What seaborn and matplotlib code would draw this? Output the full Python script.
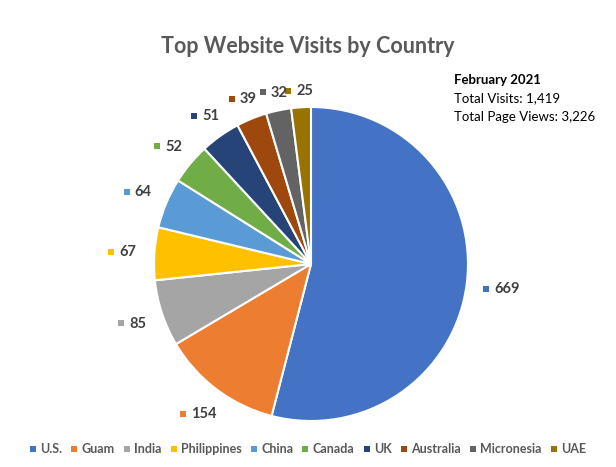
import numpy as np
import matplotlib
matplotlib.use('Agg')
import matplotlib.pyplot as plt
from matplotlib.lines import Line2D
from matplotlib.transforms import offset_copy
import seaborn as sns

# Data
countries = ['U.S.', 'Guam', 'India', 'Philippines', 'China', 'Canada', 'UK',
             'Australia', 'Micronesia', 'UAE']
visits = [669, 154, 85, 67, 64, 52, 51, 39, 32, 25]
colors = ['#4472C4', '#ED7D31', '#A5A5A5', '#FFC000', '#5B9BD5', '#70AD47',
          '#264478', '#9E480E', '#636363', '#997300']
info_lines = ['February 2021', 'Total Visits: 1,419', 'Total Page Views: 3,226']

sns.set_theme(style='white')
plt.rcParams['font.family'] = ['Lato', 'DejaVu Sans']
grey = '#595959'

fig = plt.figure(figsize=(6.16, 4.67), dpi=100)
ax = fig.add_axes([0.25, 0.0985, 0.5097, 0.6724])

wedges, _ = ax.pie(visits, colors=sns.color_palette(colors), startangle=90,
                   counterclock=False, radius=1.0,
                   wedgeprops=dict(edgecolor='white', linewidth=1.5))
ax.set_xlim(-1, 1)
ax.set_ylim(-1, 1)
ax.set_aspect('equal')
ax.axis('off')

# value labels with a small colour key to the left
for w, v, c in zip(wedges, visits, colors):
    ang = np.deg2rad((w.theta1 + w.theta2) / 2)
    n = len(str(v))
    r = 1.1 + 0.1 * abs(np.cos(ang)) + 0.03 * (n - 2)
    x, y = r * np.cos(ang), r * np.sin(ang)
    ax.annotate(str(v), (x, y), xytext=(3.4, -0.5), textcoords='offset points',
                ha='center', va='center', fontsize=10.5, fontweight='bold',
                color='#404040', annotation_clip=False)
    tr = offset_copy(ax.transData, fig=fig, x=-3 - 4.4 * n, y=-0.5, units='dots')
    ax.plot([x], [y], marker='s', markersize=4.2, color=c, clip_on=False,
            transform=tr, markeredgewidth=0)

fig.text(0.5, 0.9, 'Top Website Visits by Country', ha='center', va='center',
         fontsize=15.5, fontweight='bold', color=grey)

fig.text(0.737, 0.828, info_lines[0], fontsize=9.5, fontweight='bold', color='black',
         va='center')
fig.text(0.737, 0.789, info_lines[1], fontsize=9.5, color='black', va='center')
fig.text(0.737, 0.749, info_lines[2], fontsize=9.5, color='black', va='center')

handles = [Line2D([0], [0], marker='s', linestyle='', markersize=4,
                  markeredgewidth=0, color=c) for c in colors]
fig.legend(handles, countries, loc='center', bbox_to_anchor=(0.5, 0.038),
           ncol=len(countries), frameon=False, handlelength=0.5,
           handletextpad=0.35, columnspacing=0.7, labelcolor=grey,
           prop=dict(size=9, weight='bold'))

fig.savefig('out.png', dpi=100, facecolor='white')
